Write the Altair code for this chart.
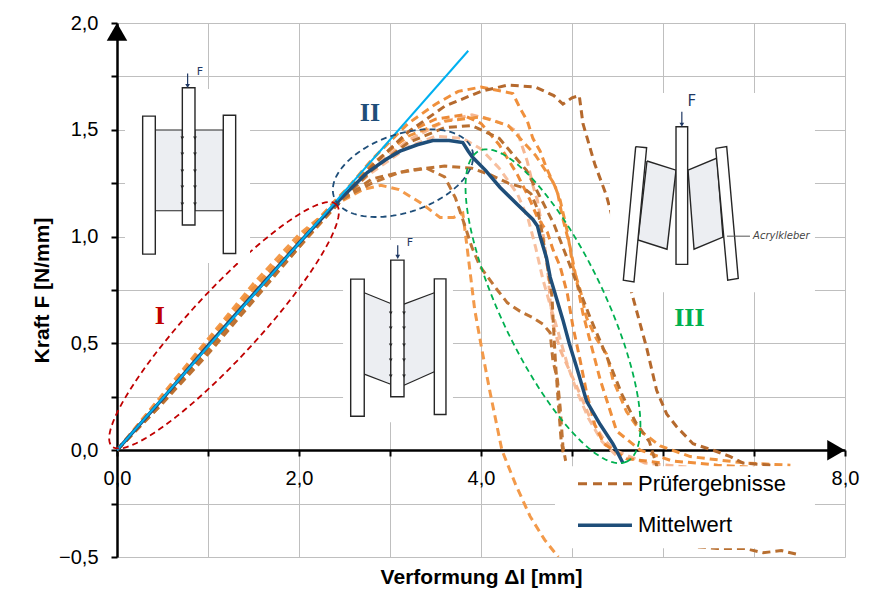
import altair as alt
import numpy as np
import pandas as pd

# ------------------------------------------------------------------ data
# test results (Prüfergebnisse)
p1_x = [0, 0.5, 1, 1.5, 2, 2.4, 2.8, 3.2, 3.6, 4.0, 4.3, 4.6, 4.8, 4.9, 5.0, 5.08, 5.12, 5.25, 5.38, 5.5, 5.66, 5.82, 5.93, 6.04, 6.15, 6.33, 6.55, 6.74, 6.88, 7.18]
p1_y = [0, 0.23, 0.48, 0.73, 0.97, 1.15, 1.33, 1.49, 1.61, 1.68, 1.71, 1.70, 1.66, 1.62, 1.65, 1.66, 1.53, 1.34, 1.19, 1.0, 0.73, 0.48, 0.28, 0.17, 0.11, 0.03, 0.0, -0.03, -0.06, -0.07]
p2_x = [0, 0.5, 1, 1.5, 2, 2.4, 2.8, 3.2, 3.5, 3.75, 4.0, 4.35, 4.43, 4.51, 4.57, 4.65, 4.72, 4.84, 4.89, 4.98, 5.12, 5.31, 5.49, 5.75, 6.1, 6.6, 7.0]
p2_y = [0, 0.25, 0.51, 0.76, 0.99, 1.16, 1.36, 1.53, 1.62, 1.68, 1.70, 1.67, 1.60, 1.54, 1.46, 1.40, 1.32, 1.21, 1.10, 0.95, 0.64, 0.33, 0.09, 0.0, -0.05, -0.07, -0.08]
p3_x = [0, 0.5, 1, 1.5, 2, 2.4, 2.8, 3.2, 3.6, 3.9, 4.1, 4.29, 4.40, 4.51, 4.57, 4.62, 4.68, 4.73, 4.76, 4.79, 4.87, 5.05, 5.2, 5.35, 5.47, 5.8, 6.3]
p3_y = [0, 0.26, 0.52, 0.76, 0.99, 1.16, 1.32, 1.45, 1.54, 1.57, 1.55, 1.52, 1.49, 1.35, 1.24, 1.17, 1.02, 0.86, 0.70, 0.59, 0.47, 0.30, 0.15, 0.05, 0.0, -0.06, -0.08]
p4_x = [0, 0.5, 1, 1.5, 2, 2.4, 2.8, 3.2, 3.5, 3.8, 4.0, 4.2, 4.4, 4.54, 4.62, 4.73, 4.79, 4.87, 4.95, 5.01, 5.09, 5.16, 5.25, 5.35, 5.6, 6.0]
p4_y = [0, 0.22, 0.46, 0.71, 0.95, 1.14, 1.33, 1.49, 1.55, 1.57, 1.53, 1.43, 1.29, 1.17, 1.09, 1.02, 0.94, 0.86, 0.73, 0.58, 0.42, 0.27, 0.12, 0.03, -0.04, -0.06]
p5_x = [0, 0.5, 1, 1.5, 2, 2.4, 2.7, 2.9, 3.1, 3.33, 3.55, 3.7, 3.8, 3.85, 3.93, 4.01, 4.1, 4.23, 4.38, 4.54, 4.7, 4.85]
p5_y = [0, 0.26, 0.52, 0.78, 1.01, 1.15, 1.22, 1.24, 1.22, 1.16, 1.09, 1.09, 1.11, 0.94, 0.66, 0.47, 0.27, 0.0, -0.16, -0.31, -0.42, -0.5]
p6_x = [0, 0.5, 1, 1.5, 2, 2.4, 2.8, 3.1, 3.4, 3.6, 3.72, 3.80, 3.9, 3.99, 4.18, 4.29, 4.43, 4.57, 4.68, 4.76, 4.79, 4.84, 4.87, 4.9, 4.93]
p6_y = [0, 0.23, 0.47, 0.72, 0.97, 1.16, 1.25, 1.30, 1.32, 1.28, 1.18, 1.08, 0.95, 0.86, 0.75, 0.69, 0.65, 0.62, 0.59, 0.55, 0.42, 0.33, 0.2, 0.02, -0.05]
p7_x = [0, 0.5, 1, 1.5, 2, 2.4, 2.8, 3.2, 3.6, 3.9, 4.1, 4.3, 4.46, 4.55, 4.62, 4.67, 4.73, 4.78, 4.8, 4.82, 4.85, 4.88, 4.91]
p7_y = [0, 0.22, 0.45, 0.70, 0.95, 1.15, 1.27, 1.31, 1.33, 1.32, 1.29, 1.25, 1.23, 1.2, 1.13, 1.02, 0.86, 0.72, 0.55, 0.4, 0.22, 0.05, -0.03]
p8_x = [0, 0.5, 1, 1.5, 2, 2.4, 2.8, 3.2, 3.6, 4.0, 4.3, 4.6, 4.8, 4.87, 4.95, 5.01, 5.09, 5.16, 5.27, 5.38, 5.45, 5.6, 5.75, 5.97, 6.3, 6.9, 7.4]
p8_y = [0, 0.24, 0.49, 0.74, 0.98, 1.17, 1.34, 1.47, 1.54, 1.56, 1.52, 1.38, 1.25, 1.17, 1.02, 0.86, 0.75, 0.62, 0.52, 0.45, 0.33, 0.18, 0.09, 0.02, -0.03, -0.06, -0.07]
p9_x = [0, 0.5, 1, 1.5, 2, 2.4, 2.8, 3.2, 3.5, 3.8, 4.0, 4.2, 4.4, 4.52, 4.6, 4.68, 4.76, 4.85, 4.95, 5.05, 5.18, 5.33, 5.5]
p9_y = [0, 0.25, 0.50, 0.75, 0.99, 1.16, 1.30, 1.42, 1.47, 1.46, 1.41, 1.32, 1.2, 1.08, 0.95, 0.8, 0.68, 0.55, 0.40, 0.28, 0.15, 0.04, -0.03]
p10_x = [0, 0.5, 1, 1.5, 2, 2.4, 2.8, 3.2, 3.6, 3.9, 4.2, 4.5, 4.8, 5.0, 5.2, 5.4, 5.55, 5.7, 5.85, 5.95, 6.05, 6.15, 6.3, 6.6, 6.9, 7.1, 7.3, 7.5]
p10_y = [0, 0.24, 0.48, 0.72, 0.96, 1.14, 1.31, 1.44, 1.51, 1.52, 1.46, 1.31, 1.06, 0.84, 0.62, 0.42, 0.26, 0.13, 0.04, -0.1, -0.3, -0.43, -0.45, -0.46, -0.46, -0.48, -0.47, -0.49]

test_series = [
    ("P9", "#f7bf9e", p9_x, p9_y),
    ("P3", "#f6b690", p3_x, p3_y),
    ("P4", "#ec8a38", p4_x, p4_y),
    ("P8", "#ef933f", p8_x, p8_y),
    ("P5", "#f39a4a", p5_x, p5_y),
    ("P2", "#f0903c", p2_x, p2_y),
    ("P10", "#b86f30", p10_x, p10_y),
    ("P7", "#bd7232", p7_x, p7_y),
    ("P6", "#c07535", p6_x, p6_y),
    ("P1", "#b5692d", p1_x, p1_y),
]

# mean curve (Mittelwert)
mean_x = [0, 0.5, 1, 1.5, 2, 2.37, 2.56, 2.75, 2.95, 3.11, 3.3, 3.47, 3.65, 3.80, 3.86, 3.91, 4.05, 4.21, 4.4, 4.57, 4.62, 4.65, 4.72, 4.76, 4.83, 4.90, 4.97, 5.05, 5.16, 5.31, 5.45, 5.56]
mean_y = [0, 0.24, 0.49, 0.73, 0.97, 1.14, 1.22, 1.30, 1.36, 1.40, 1.43, 1.45, 1.45, 1.44, 1.40, 1.37, 1.31, 1.23, 1.15, 1.08, 1.05, 1.0, 0.9, 0.81, 0.71, 0.61, 0.5, 0.39, 0.23, 0.12, 0.03, -0.06]

# linear fit line
fit_x = [0.0, 3.86]
fit_y = [0.0, 1.87]

x_ticks = [0, 1, 2, 3, 4, 5, 6, 7, 8]
x_labelled = [0, 2, 4, 8]
y_ticks = [-0.5, -0.25, 0.0, 0.25, 0.5, 0.75, 1.0, 1.25, 1.5, 1.75, 2.0]

# region labels
region_text = ["I", "II", "III"]
region_x = [0.47, 2.78, 6.29]
region_y = [0.63, 1.58, 0.62]
region_color = ["#c00000", "#1f4e79", "#00b050"]

# region ellipses: centre (data), semi axes (px), angle (deg, screen)
ell_names = ["I", "II", "III"]
ell_cx = [1.176, 3.143, 4.791]
ell_cy = [0.585, 1.297, 0.674]
ell_a = [165, 73, 172]
ell_b = [34, 39, 52]
ell_ang = [-47.2, -19.0, 64.6]
ell_color = ["#c00000", "#1f4e79", "#00b050"]

legend_labels = ["Prüfergebnisse", "Mittelwert"]

# ------------------------------------------------------------------ layout
W, H = 728, 534
XMIN, XMAX, YMIN, YMAX = 0.0, 8.0, -0.5, 2.0
PX_X = W / (XMAX - XMIN)
PX_Y = H / (YMAX - YMIN)
FONT = "Liberation Sans"

xs = alt.Scale(domain=[XMIN, XMAX], nice=False, zero=False)
ys = alt.Scale(domain=[YMIN, YMAX], nice=False, zero=False)

fmt = "replace(format(datum.value, '.1f'), '.', ',')"
x_show = " || ".join(f"datum.value == {v}" for v in x_labelled)
x_axis = alt.Axis(
    values=x_ticks,
    labelExpr=f"({x_show}) ? {fmt} : ''",
    offset=-round((0 - YMIN) * PX_Y),
    grid=True, gridColor="#bfbfbf", gridWidth=1,
    domainColor="black", domainWidth=2.5,
    tickColor="black", tickWidth=2, tickSize=6,
    labelFont=FONT, labelFontSize=20, labelColor="black", labelPadding=12,
    labelFlush=False,
    title="Verformung Δl [mm]", titleFont=FONT, titleFontSize=21,
    titleFontWeight="bold", titleColor="black",
    titleY=round((0 - YMIN) * PX_Y) + 26, titleBaseline="alphabetic",
)
y_axis = alt.Axis(
    values=y_ticks,
    labelExpr=f"abs(datum.value * 2 - round(datum.value * 2)) < 0.001 ? {fmt} : ''",
    grid=True, gridColor="#bfbfbf", gridWidth=1,
    domainColor="black", domainWidth=2.5,
    tickColor="black", tickWidth=2, tickSize=6,
    labelFont=FONT, labelFontSize=20, labelColor="black", labelPadding=13,
    labelFlush=False,
    title="Kraft F [N/mm]", titleFont=FONT, titleFontSize=21,
    titleFontWeight="bold", titleColor="black",
    titleX=-69, titleBaseline="alphabetic",
)


def X(f):
    return alt.X(f"{f}:Q", scale=xs, axis=x_axis)


def Y(f):
    return alt.Y(f"{f}:Q", scale=ys, axis=y_axis)


# ------------------------------------------------------------------ tables
rows = []
for name, col, xx, yy in test_series:
    for i, (a, b) in enumerate(zip(xx, yy)):
        rows.append({"curve": name, "color": col, "i": i, "x": a, "y": b})
tests_df = pd.DataFrame(rows)
mean_df = pd.DataFrame({"x": mean_x, "y": mean_y, "i": range(len(mean_x))})
fit_df = pd.DataFrame({"x": fit_x, "y": fit_y})

erows = []
for n, cx, cy, a, b, ang, col in zip(ell_names, ell_cx, ell_cy, ell_a, ell_b, ell_ang, ell_color):
    t = np.linspace(0, 2 * np.pi, 140)
    th = np.radians(ang)
    dx = a * np.cos(t) * np.cos(th) - b * np.sin(t) * np.sin(th)
    dy = a * np.cos(t) * np.sin(th) + b * np.sin(t) * np.cos(th)
    for i, (u, v) in enumerate(zip(cx + dx / PX_X, cy - dy / PX_Y)):
        erows.append({"name": n, "color": col, "i": i, "x": u, "y": v})
ell_df = pd.DataFrame(erows)
region_df = pd.DataFrame({"t": region_text, "x": region_x, "y": region_y, "c": region_color})

# sketches (decorative drawings, in data units)
sk_box = pd.DataFrame({"x": [0.088, 2.484, 5.418], "x2": [1.462, 3.692, 7.670],
                       "y": [0.876, 0.131, 0.740], "y2": [1.691, 0.984, 1.672]})
sk_foam_rect = pd.DataFrame({"x": [0.421, 0.857], "x2": [0.718, 1.168],
                             "y": [1.121, 1.121], "y2": [1.499, 1.499]})
sk_plates = pd.DataFrame({
    "x": [0.282, 1.168, 0.718, 2.568, 3.487, 3.008, 6.143],
    "x2": [0.421, 1.304, 0.857, 2.717, 3.615, 3.154, 6.271],
    "y": [0.918, 0.921, 1.054, 0.159, 0.167, 0.250, 0.870],
    "y2": [1.564, 1.568, 1.697, 0.801, 0.802, 0.890, 1.514]})
sk_trap = pd.DataFrame({"side": ["L", "L", "R", "R"],
                        "x": [2.717, 3.008, 3.154, 3.487],
                        "top": [0.737, 0.687, 0.684, 0.737],
                        "bot": [0.356, 0.309, 0.304, 0.367]})
sk_trap_edges = pd.concat([
    sk_trap.assign(edge=sk_trap["side"] + "t", y=sk_trap["top"]),
    sk_trap.assign(edge=sk_trap["side"] + "b", y=sk_trap["bot"]),
])
poly = {
    "lf": [(5.824, 1.354), (6.143, 1.311), (6.044, 0.941), (5.725, 0.984)],
    "rf": [(6.275, 1.311), (6.593, 1.368), (6.659, 0.998), (6.341, 0.941)],
    "lp": [(5.700, 1.421), (5.820, 1.416), (5.681, 0.788), (5.564, 0.796)],
    "rp": [(6.579, 1.413), (6.700, 1.421), (6.827, 0.804), (6.711, 0.796)],
}
prow = []
for k, pts in poly.items():
    for i, (a, b) in enumerate(pts + pts[:1]):
        prow.append({"shape": k, "i": i, "x": a, "y": b,
                     "fill": "#eceef2" if k.endswith("f") else "#ffffff"})
sk_poly = pd.DataFrame(prow)
arr_y1 = [1.461, 1.386, 1.307, 1.232, 1.152]
arr_y2 = [0.642, 0.571, 0.492, 0.422, 0.347]
sk_marks = pd.DataFrame({
    "x": [0.718] * 5 + [0.857] * 5 + [3.008] * 5 + [3.154] * 5,
    "y": arr_y1 + arr_y1 + arr_y2 + arr_y2})
sk_force = pd.DataFrame({"x": [0.776, 3.085, 6.207], "y": [1.705, 0.905, 1.524],
                         "y2": [1.764, 0.960, 1.585]})
sk_F = pd.DataFrame({"x": [0.876, 3.183, 6.27], "y": [1.772, 0.970, 1.636],
                     "s": [11, 11, 15], "t": ["F", "F", "F"]})
sk_lead = pd.DataFrame({"x": [6.703], "x2": [6.956], "y": [1.002]})
sk_note = pd.DataFrame({"x": [6.99], "y": [1.005], "t": ["Acrylkleber"]})

leg_box = pd.DataFrame({"x": [4.813], "x2": [7.670], "y": [-0.459], "y2": [-0.075]})
leg_items = pd.DataFrame({"x": [5.066, 5.066], "x2": [5.659, 5.659], "y": [-0.157, -0.351],
                          "tx": [5.725, 5.725], "t": legend_labels})
arrows = pd.DataFrame({"x": [0.0, XMAX - 8.9 / PX_X], "y": [YMAX - 8.9 / PX_Y, 0.0],
                       "shape": ["triangle-up", "triangle-right"]})

# ------------------------------------------------------------------ layers
OUT = "#262626"
layers = [
    alt.Chart(tests_df).mark_line(strokeDash=[8, 5], strokeWidth=3, clip=True).encode(
        x=X("x"), y=Y("y"), detail="curve:N", order="i:Q",
        color=alt.Color("color:N", scale=None)),
    alt.Chart(mean_df).mark_line(color="#1f4e79", strokeWidth=3.5, clip=True).encode(
        x=X("x"), y=Y("y"), order="i:Q"),
    alt.Chart(fit_df).mark_line(color="#00b0f0", strokeWidth=2).encode(x=X("x"), y=Y("y")),
    alt.Chart(ell_df).mark_line(strokeDash=[6, 4], strokeWidth=1.8).encode(
        x=X("x"), y=Y("y"), detail="name:N", order="i:Q",
        color=alt.Color("color:N", scale=None)),
    alt.Chart(region_df).mark_text(font="Liberation Serif", fontWeight="bold", fontSize=26,
                                   baseline="middle").encode(
        x=X("x"), y=Y("y"), text="t:N", color=alt.Color("c:N", scale=None)),
    # sketches
    alt.Chart(sk_box).mark_rect(fill="white").encode(x=X("x"), x2="x2:Q", y=Y("y"), y2="y2:Q"),
    alt.Chart(sk_foam_rect).mark_rect(fill="#eceef2", stroke=OUT, strokeWidth=1.2).encode(
        x=X("x"), x2="x2:Q", y=Y("y"), y2="y2:Q"),
    alt.Chart(sk_trap).mark_area(fill="#eceef2").encode(
        x=X("x"), y=Y("top"), y2="bot:Q", detail="side:N"),
    alt.Chart(sk_trap_edges).mark_line(color=OUT, strokeWidth=1.2).encode(
        x=X("x"), y=Y("y"), detail="edge:N"),
    alt.Chart(sk_poly).mark_line(stroke=OUT, strokeWidth=1.4).encode(
        x=X("x"), y=Y("y"), detail="shape:N", order="i:Q",
        fill=alt.Fill("fill:N", scale=None)),
    alt.Chart(sk_plates).mark_rect(fill="white", stroke=OUT, strokeWidth=1.4).encode(
        x=X("x"), x2="x2:Q", y=Y("y"), y2="y2:Q"),
    alt.Chart(sk_marks).mark_point(shape="triangle-down", filled=True, size=14, color=OUT,
                                   opacity=1).encode(x=X("x"), y=Y("y")),
    alt.Chart(sk_force).mark_rule(color="#1f3864", strokeWidth=1.2).encode(
        x=X("x"), y=Y("y"), y2="y2:Q"),
    alt.Chart(sk_force).mark_point(shape="triangle-down", filled=True, size=22, color="#1f3864",
                                   opacity=1).encode(x=X("x"), y=Y("y")),
    alt.Chart(sk_F).mark_text(color="#1f3864", font="DejaVu Sans", align="left",
                              baseline="middle").encode(
        x=X("x"), y=Y("y"), text="t:N", size=alt.Size("s:Q", scale=None)),
    alt.Chart(sk_lead).mark_rule(color="#555555", strokeWidth=1).encode(
        x=X("x"), x2="x2:Q", y=Y("y")),
    alt.Chart(sk_note).mark_text(color="#444444", font="DejaVu Sans", fontStyle="italic",
                                 fontSize=10, align="left", baseline="middle").encode(
        x=X("x"), y=Y("y"), text="t:N"),
    # legend
    alt.Chart(leg_box).mark_rect(fill="white").encode(x=X("x"), x2="x2:Q", y=Y("y"), y2="y2:Q"),
    alt.Chart(leg_items.iloc[[0]]).mark_rule(color="#b5692d", strokeWidth=3,
                                              strokeDash=[9, 6]).encode(
        x=X("x"), x2="x2:Q", y=Y("y")),
    alt.Chart(leg_items.iloc[[1]]).mark_rule(color="#1f4e79", strokeWidth=3.5).encode(
        x=X("x"), x2="x2:Q", y=Y("y")),
    alt.Chart(leg_items).mark_text(font=FONT, fontSize=22, align="left", baseline="middle",
                                   color="black").encode(x=X("tx"), y=Y("y"), text="t:N"),
    # axis arrows
    alt.Chart(arrows).mark_point(filled=True, size=420, color="black", opacity=1).encode(
        x=X("x"), y=Y("y"), shape=alt.Shape("shape:N", scale=None)),
]

chart = alt.layer(*layers).properties(
    width=W, height=H,
    padding={"left": 109, "top": 15, "right": 31, "bottom": 49},
    autosize=alt.AutoSizeParams(type="none"),
    background="white",
).configure_view(stroke=None)

chart.save("out.html", embed_options={"renderer": "svg", "actions": False})
